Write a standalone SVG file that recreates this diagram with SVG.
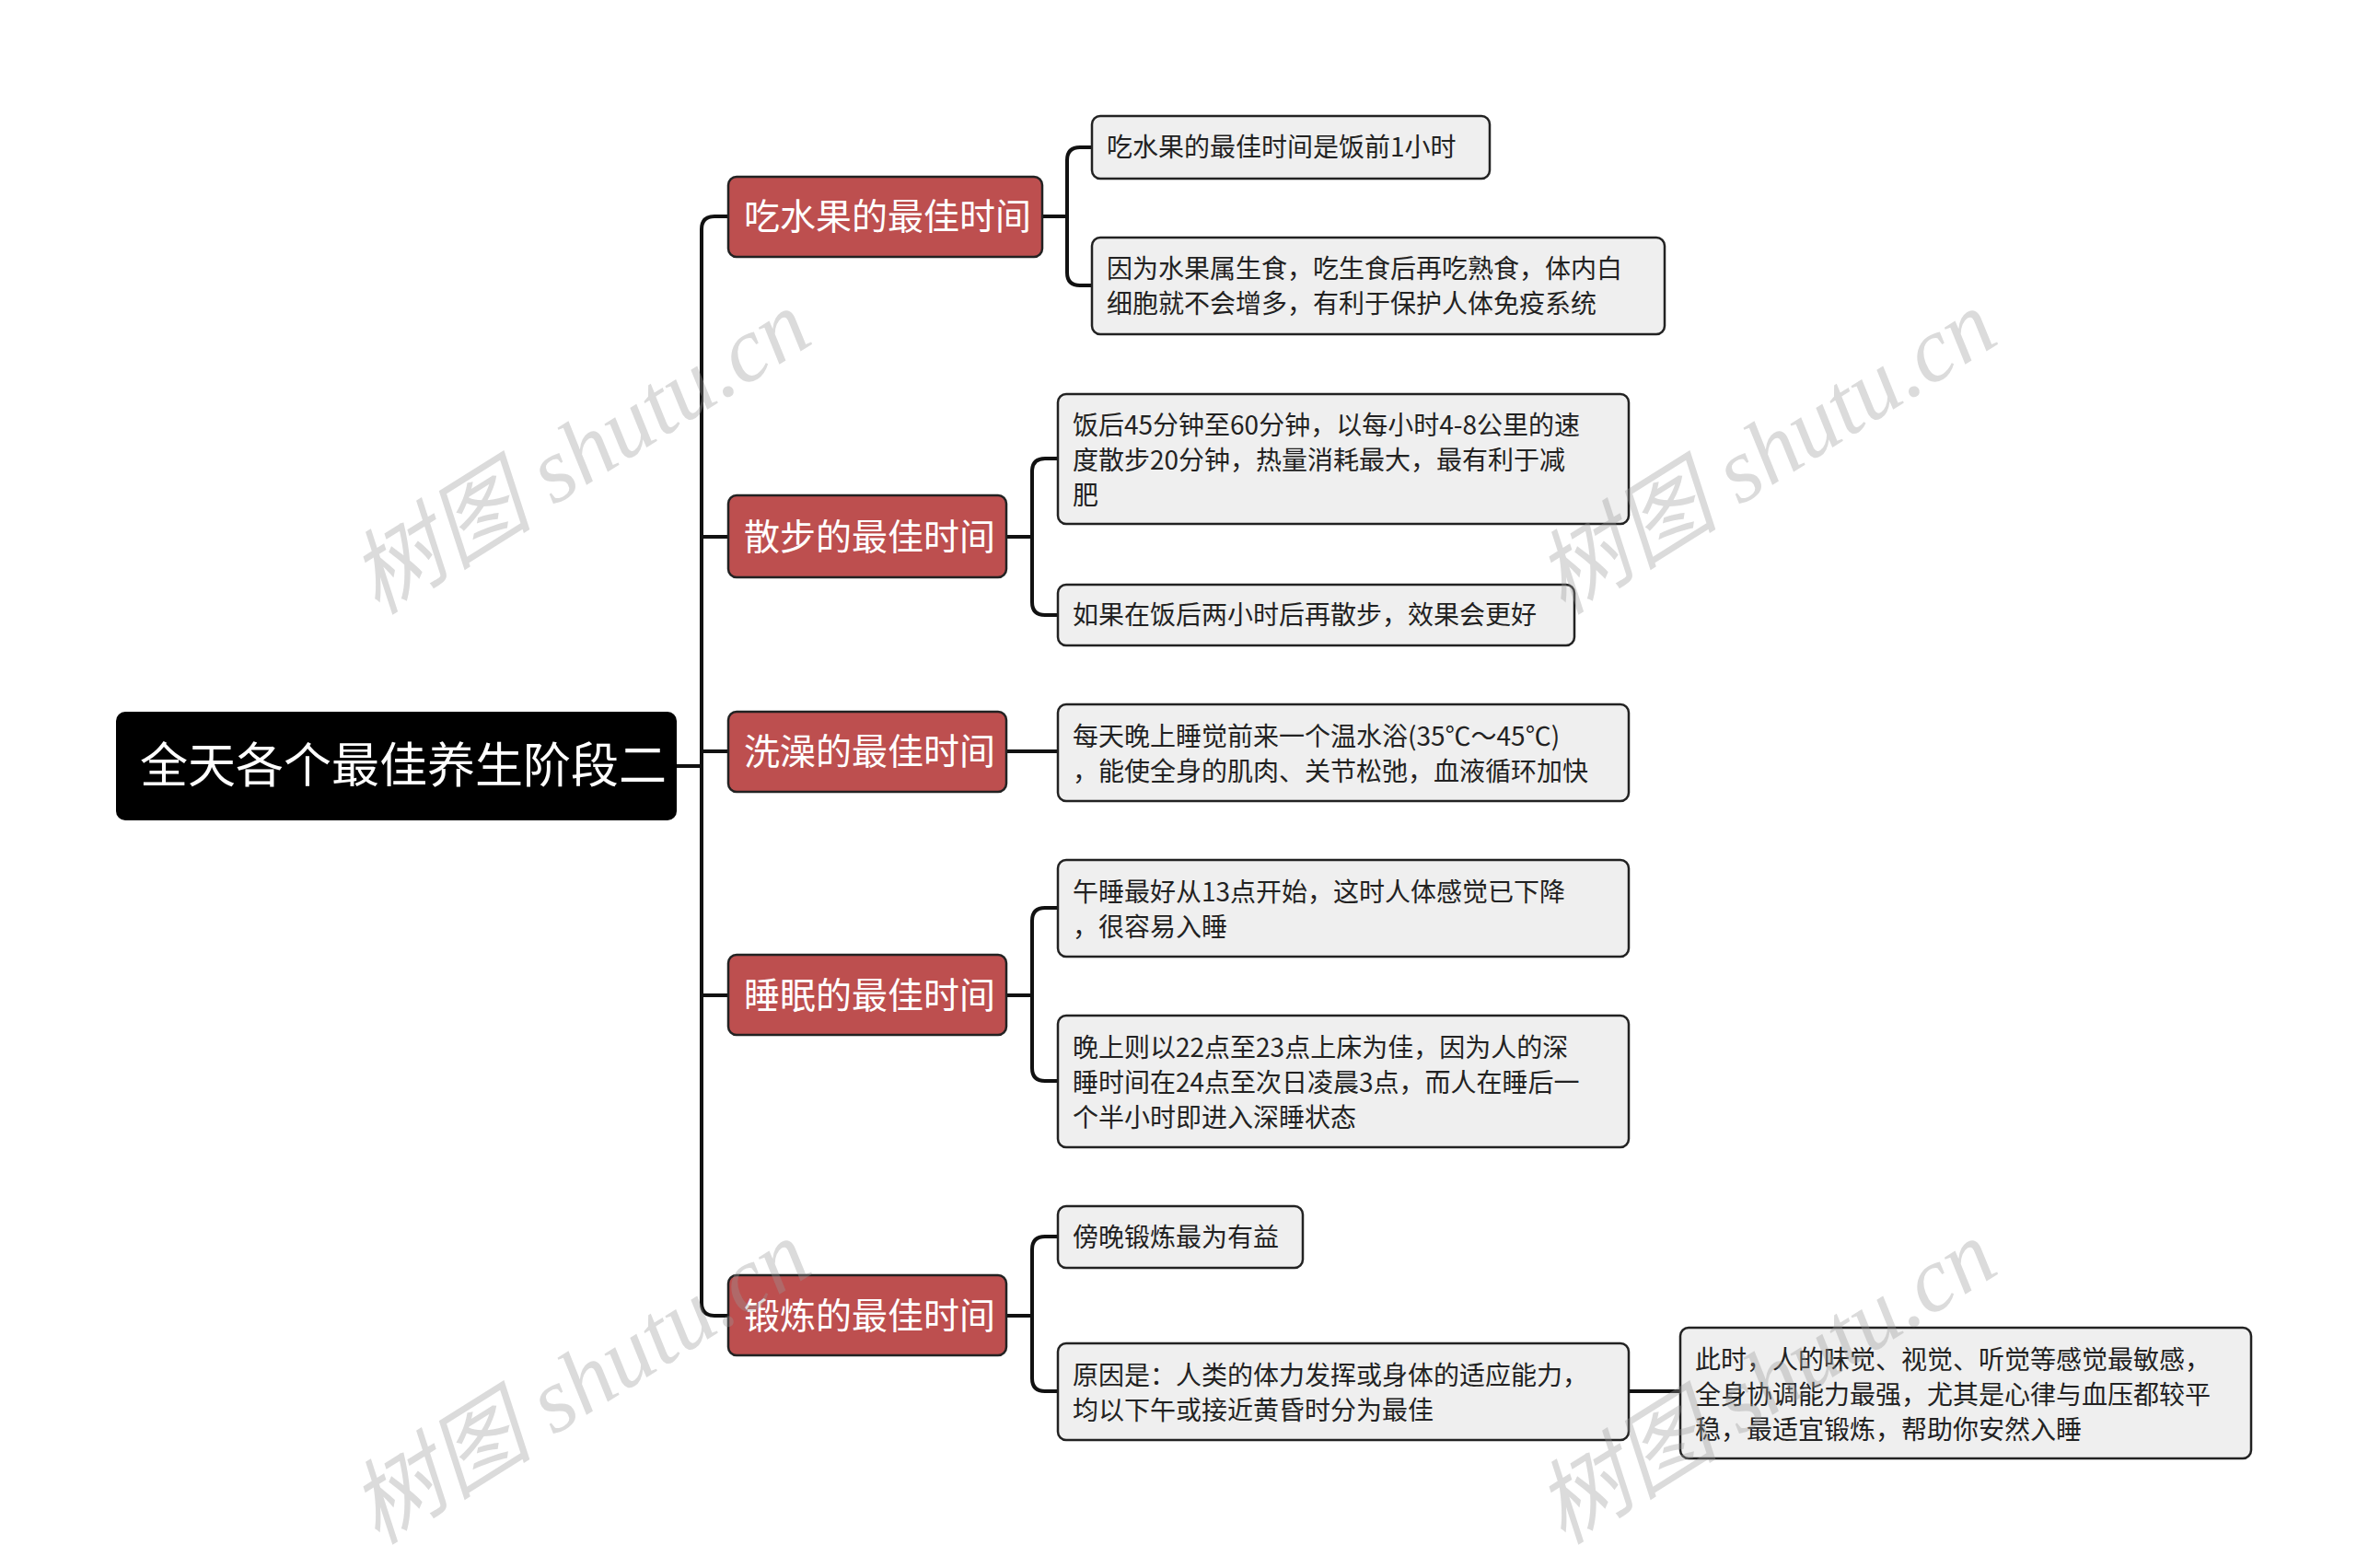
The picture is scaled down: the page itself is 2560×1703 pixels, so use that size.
<svg xmlns="http://www.w3.org/2000/svg" width="2560" height="1703" viewBox="0 0 2560 1703">
<style>
.l1 rect{fill:#bd4f4f;stroke:#222;stroke-width:2.5}
.l1 text{fill:#fff;font:39px "Noto Sans CJK SC","Noto Sans",sans-serif}
.l2 rect{fill:#efefef;stroke:#222;stroke-width:2.5}
.l2 text{fill:#222;font:28px "Noto Sans CJK SC","Noto Sans",sans-serif}
.c path{fill:none;stroke:#111;stroke-width:4}
.wm{fill:#999;opacity:0.35;font:italic 100px "Liberation Serif","Noto Sans CJK SC",serif}
</style>
<rect width="2560" height="1703" fill="#fff"/>
<g class="c">
<path d="M735 832H762"/>
<path d="M791 235H776Q762 235 762 249V1415Q762 1429 776 1429H791"/>
<path d="M762 583H791M762 816H791M762 1081H791"/>
<path d="M1132 235H1159M1186 160H1173Q1159 160 1159 174V296Q1159 310 1173 310H1186"/>
<path d="M1093 583H1121M1149 498H1135Q1121 498 1121 512V654Q1121 668 1135 668H1149"/>
<path d="M1093 816H1149"/>
<path d="M1093 1081H1121M1149 986H1135Q1121 986 1121 1000V1160Q1121 1174 1135 1174H1149"/>
<path d="M1093 1429H1121M1149 1343H1135Q1121 1343 1121 1357V1497Q1121 1511 1135 1511H1149"/>
<path d="M1769 1511H1825"/>
</g>
<g id="root"><rect x="126" y="773" width="609" height="118" rx="10" fill="#000"/><text x="152" y="850" fill="#fff" font-family="Noto Sans CJK SC,sans-serif" font-size="52">全天各个最佳养生阶段二</text></g>
<g id="n1" class="l1"><rect x="791" y="192" width="341" height="87" rx="9"/><text x="808" y="249">吃水果的最佳时间</text></g>
<g id="n2" class="l1"><rect x="791" y="538" width="302" height="89" rx="9"/><text x="808" y="597">散步的最佳时间</text></g>
<g id="n3" class="l1"><rect x="791" y="773" width="302" height="87" rx="9"/><text x="808" y="830">洗澡的最佳时间</text></g>
<g id="n4" class="l1"><rect x="791" y="1037" width="302" height="87" rx="9"/><text x="808" y="1095">睡眠的最佳时间</text></g>
<g id="n5" class="l1"><rect x="791" y="1385" width="302" height="87" rx="9"/><text x="808" y="1443">锻炼的最佳时间</text></g>
<g id="a1" class="l2"><rect x="1186" y="126" width="432" height="68" rx="9"/><text x="1202" y="170">吃水果的最佳时间是饭前1小时</text></g>
<g id="a2" class="l2"><rect x="1186" y="258" width="622" height="105" rx="9"/><text x="1202" y="302">因为水果属生食，吃生食后再吃熟食，体内白</text><text x="1202" y="340">细胞就不会增多，有利于保护人体免疫系统</text></g>
<g id="b1" class="l2"><rect x="1149" y="428" width="620" height="141" rx="9"/><text x="1165" y="472">饭后45分钟至60分钟，以每小时4-8公里的速</text><text x="1165" y="510">度散步20分钟，热量消耗最大，最有利于减</text><text x="1165" y="548">肥</text></g>
<g id="b2" class="l2"><rect x="1149" y="635" width="561" height="66" rx="9"/><text x="1165" y="678">如果在饭后两小时后再散步，效果会更好</text></g>
<g id="c1" class="l2"><rect x="1149" y="765" width="620" height="105" rx="9"/><text x="1165" y="810">每天晚上睡觉前来一个温水浴(35℃～45℃)</text><text x="1165" y="848">，能使全身的肌肉、关节松弛，血液循环加快</text></g>
<g id="d1" class="l2"><rect x="1149" y="934" width="620" height="105" rx="9"/><text x="1165" y="979">午睡最好从13点开始，这时人体感觉已下降</text><text x="1165" y="1017">，很容易入睡</text></g>
<g id="d2" class="l2"><rect x="1149" y="1103" width="620" height="143" rx="9"/><text x="1165" y="1148">晚上则以22点至23点上床为佳，因为人的深</text><text x="1165" y="1186">睡时间在24点至次日凌晨3点，而人在睡后一</text><text x="1165" y="1224">个半小时即进入深睡状态</text></g>
<g id="e1" class="l2"><rect x="1149" y="1310" width="266" height="67" rx="9"/><text x="1165" y="1354">傍晚锻炼最为有益</text></g>
<g id="e2" class="l2"><rect x="1149" y="1459" width="620" height="105" rx="9"/><text x="1165" y="1504">原因是：人类的体力发挥或身体的适应能力，</text><text x="1165" y="1542">均以下午或接近黄昏时分为最佳</text></g>
<g id="e3" class="l2"><rect x="1825" y="1442" width="620" height="142" rx="9"/><text x="1841" y="1487">此时，人的味觉、视觉、听觉等感觉最敏感，</text><text x="1841" y="1525">全身协调能力最强，尤其是心律与血压都较平</text><text x="1841" y="1563">稳，最适宜锻炼，帮助你安然入睡</text></g>
<g id="watermarks">
<text class="wm" transform="translate(648 520) rotate(-32)" text-anchor="middle">树图 shutu.cn</text>
<text class="wm" transform="translate(1936 520) rotate(-32)" text-anchor="middle">树图 shutu.cn</text>
<text class="wm" transform="translate(648 1530) rotate(-32)" text-anchor="middle">树图 shutu.cn</text>
<text class="wm" transform="translate(1936 1530) rotate(-32)" text-anchor="middle">树图 shutu.cn</text>
</g>
</svg>
